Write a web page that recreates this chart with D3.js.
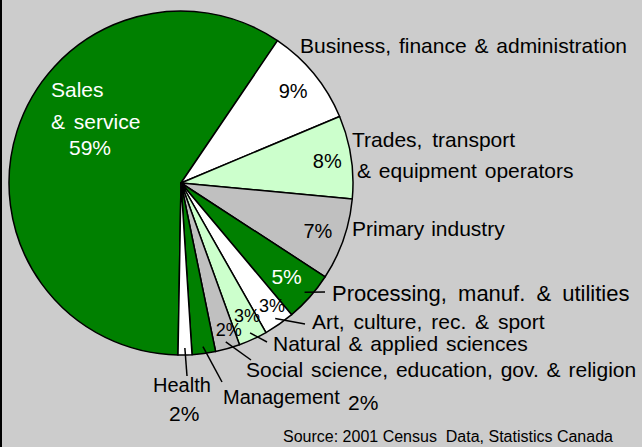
<!DOCTYPE html>
<html>
<head>
<meta charset="utf-8">
<title>Occupations pie</title>
<script src="https://d3js.org/d3.v7.min.js"></script>
<style>
  body { margin: 0; padding: 0; background: #cccccc; }
  svg { display: block; }
  text { font-family: "Liberation Sans", Arial, sans-serif; fill: #000; }
</style>
</head>
<body>
<script>
// occupation groups, clockwise from the bottom
var categories = ["Sales & service", "Business, finance & administration",
  "Trades, transport & equipment operators", "Primary industry",
  "Processing, manuf. & utilities", "Art, culture, rec. & sport",
  "Natural & applied sciences", "Social science, education, gov. & religion",
  "Management", "Health"];
var shares = [59.2, 9.2, 7.8, 7.7, 4.7, 2.9, 2.7, 2.3, 2.2, 1.3];
var pctLabels = ["59%", "9%", "8%", "7%", "5%", "3%", "3%", "2%", "2%", "2%"];
var fills = ["#008000", "#ffffff", "#ccffcc", "#c0c0c0", "#008000",
  "#ffffff", "#ccffcc", "#c0c0c0", "#008000", "#ffffff"];

var w = 642, h = 447;
var cx = 181, cy = 183, R = 172;

var svg = d3.select("body").append("svg")
  .attr("width", w).attr("height", h);

svg.append("rect").attr("width", w).attr("height", h).attr("fill", "#cccccc");
svg.append("rect").attr("width", 2).attr("height", h).attr("fill", "#000");

var start = 181 * Math.PI / 180;
var pie = d3.pie().sort(null).startAngle(start).endAngle(start + 2 * Math.PI);
var arcs = pie(shares);

var arc = d3.arc().innerRadius(0).outerRadius(R);
var g = svg.append("g").attr("transform", "translate(" + cx + "," + cy + ")");

g.selectAll("path.slice")
  .data(arcs)
  .enter().append("path")
  .attr("class", "slice")
  .attr("d", arc)
  .attr("fill", function(d, i) { return fills[i]; })
  .attr("stroke", "#000")
  .attr("stroke-width", 1.5)
  .attr("stroke-linejoin", "round");

// percent labels inside the slices (index, radius, size)
var inner = [[1, 145, 20], [2, 148, 20], [3, 145, 20], [4, 141, 21],
  [5, 153, 18], [6, 148, 18], [7, 154, 18]];
var angShift = {5: -0.03, 6: -0.03, 7: -0.04};
inner.forEach(function(p) {
  var i = p[0], a = arcs[i];
  var mid = (a.startAngle + a.endAngle) / 2 + (angShift[i] || 0);
  var x = p[1] * Math.sin(mid), y = -p[1] * Math.cos(mid);
  g.append("text")
    .attr("x", x).attr("y", y)
    .attr("dy", "0.36em")
    .attr("text-anchor", "middle")
    .style("font-size", p[2] + "px")
    .style("fill", fills[i] == "#008000" ? "#fff" : "#000")
    .text(pctLabels[i]);
});

// leader lines: from slice edge to label
var leaders = {4: [325, 292], 5: [305, 324], 6: [267, 342], 7: [251, 360],
  8: [222, 382], 9: [187, 376]};
Object.keys(leaders).forEach(function(k) {
  var a = arcs[+k];
  var mid = (a.startAngle + a.endAngle) / 2;
  svg.append("line")
    .attr("x1", cx + 165 * Math.sin(mid))
    .attr("y1", cy - 165 * Math.cos(mid))
    .attr("x2", leaders[k][0]).attr("y2", leaders[k][1])
    .attr("stroke", "#000").attr("stroke-width", 1.5);
});

// outside labels [text, x, baseline, colour, size, word spacing]
var outside = [
  ["Sales", 51, 97, "#fff", 21, 2],
  ["& service", 51, 129, "#fff", 21, 3],
  ["59%", 69, 155, "#fff", 21, 0],
  ["Business, finance & administration", 300, 53, "#000", 21, 2],
  ["Trades, transport", 352, 147, "#000", 21, 4],
  ["& equipment operators", 357, 178, "#000", 21, 2],
  ["Primary industry", 352, 236, "#000", 21, 1],
  ["Processing, manuf. & utilities", 332, 301, "#000", 22, 5],
  ["Art, culture, rec. & sport", 312, 329, "#000", 21, 3],
  ["Natural & applied sciences", 273, 351, "#000", 21, 2],
  ["Social science, education, gov. & religion", 246, 377, "#000", 21, 2],
  ["Management", 223, 404, "#000", 20, 0],
  ["2%", 348, 410, "#000", 21, 0],
  ["Health", 153, 392, "#000", 20, 0],
  ["2%", 169, 421, "#000", 21, 0]
];
svg.selectAll("text.out")
  .data(outside)
  .enter().append("text")
  .attr("class", "out")
  .attr("x", function(d) { return d[1]; })
  .attr("y", function(d) { return d[2]; })
  .style("font-size", function(d) { return d[4] + "px"; })
  .style("word-spacing", function(d) { return d[5] + "px"; })
  .style("fill", function(d) { return d[3]; })
  .text(function(d) { return d[0]; });

svg.append("text")
  .attr("x", 283).attr("y", 442)
  .style("font-size", "16px")
  .style("white-space", "pre")
  .attr("xml:space", "preserve")
  .text("Source: 2001 Census  Data, Statistics Canada");
</script>
</body>
</html>
